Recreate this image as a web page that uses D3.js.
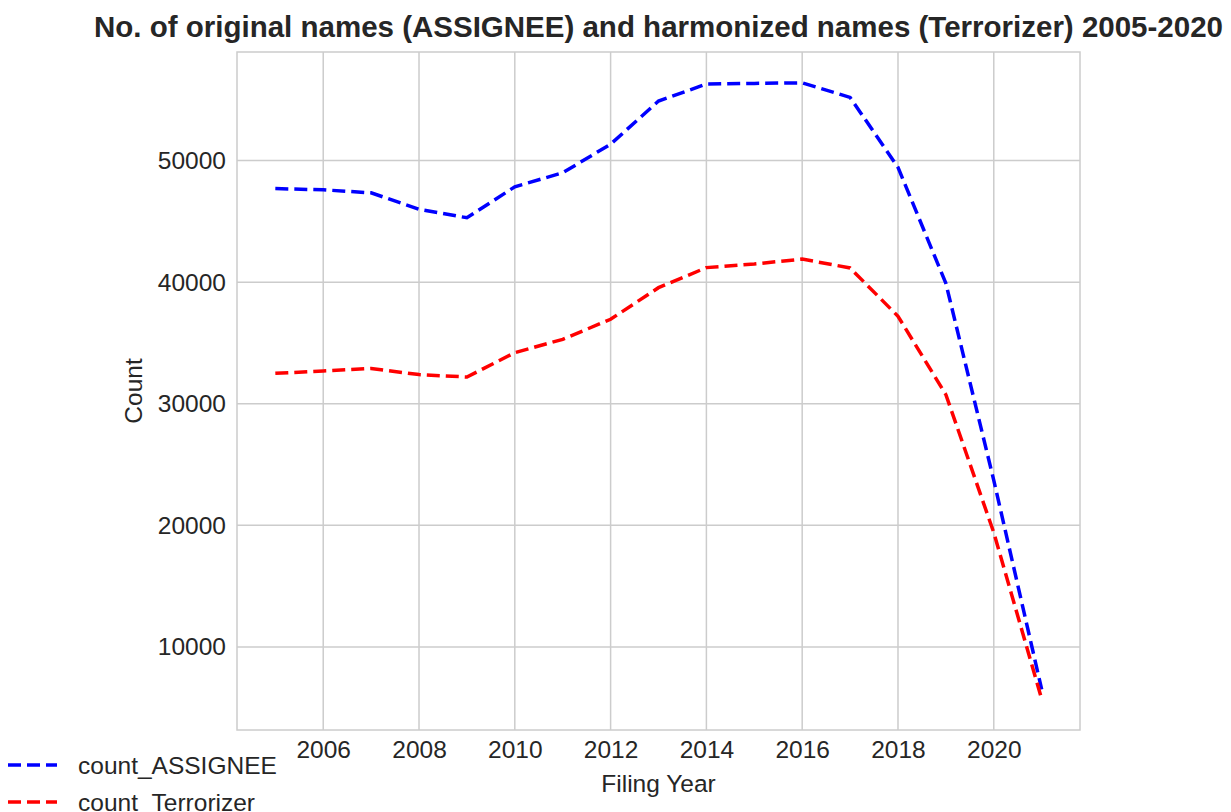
<!DOCTYPE html>
<html>
<head>
<meta charset="utf-8">
<script src="https://cdn.jsdelivr.net/npm/d3@7/dist/d3.min.js"></script>
<style>
  body { margin: 0; background: #fff; }
  svg { display: block; font-family: "Liberation Sans", Arial, sans-serif; }
</style>
</head>
<body>
<svg width="1231" height="812"></svg>
<script>
// data
var years = [2005, 2006, 2007, 2008, 2009, 2010, 2011, 2012, 2013, 2014, 2015, 2016, 2017, 2018, 2019, 2020, 2021];
var countAssignee = [47700, 47600, 47350, 46000, 45300, 47850, 49000, 51350, 54900, 56300, 56350, 56400, 55200, 49450, 39900, 23700, 6500];
var countTerrorizer = [32500, 32700, 32900, 32400, 32200, 34200, 35300, 36950, 39550, 41200, 41500, 41900, 41170, 37200, 30750, 19400, 5700];
var xTicks = [2006, 2008, 2010, 2012, 2014, 2016, 2018, 2020];
var yTicks = [10000, 20000, 30000, 40000, 50000];
var seriesNames = ["count_ASSIGNEE", "count_Terrorizer"];
var seriesColors = ["#0000ff", "#ff0000"];

var svg = d3.select("svg");
var plotLeft = 237, plotRight = 1080, plotTop = 52, plotBottom = 730;
var textColor = "#262626", gridColor = "#cccccc";
var fontSize = "24.5px";

// matplotlib-style 5% margins
var xExt = d3.extent(years), xPad = (xExt[1] - xExt[0]) * 0.05;
var allVals = countAssignee.concat(countTerrorizer);
var yExt = d3.extent(allVals), yPad = (yExt[1] - yExt[0]) * 0.05;

var x = d3.scaleLinear().domain([xExt[0] - xPad, xExt[1] + xPad]).range([plotLeft, plotRight]);
var y = d3.scaleLinear().domain([yExt[0] - yPad, yExt[1] + yPad]).range([plotBottom, plotTop]);

// grid lines
var grid = svg.append("g");
grid.selectAll(".vgrid").data(xTicks).enter().append("line")
    .attr("x1", function(d) { return x(d); })
    .attr("x2", function(d) { return x(d); })
    .attr("y1", plotTop).attr("y2", plotBottom)
    .attr("stroke", gridColor).attr("stroke-width", 1.5);
grid.selectAll(".hgrid").data(yTicks).enter().append("line")
    .attr("y1", function(d) { return y(d); })
    .attr("y2", function(d) { return y(d); })
    .attr("x1", plotLeft).attr("x2", plotRight)
    .attr("stroke", gridColor).attr("stroke-width", 1.5);

// frame
svg.append("rect")
    .attr("x", plotLeft).attr("y", plotTop)
    .attr("width", plotRight - plotLeft).attr("height", plotBottom - plotTop)
    .attr("fill", "none").attr("stroke", gridColor).attr("stroke-width", 1.5);

// axes
var xAxis = svg.append("g")
    .attr("transform", "translate(0," + plotBottom + ")")
    .call(d3.axisBottom(x).tickValues(xTicks).tickFormat(d3.format("d")).tickSize(0).tickPadding(11));
var yAxis = svg.append("g")
    .attr("transform", "translate(" + plotLeft + ",0)")
    .call(d3.axisLeft(y).tickValues(yTicks).tickFormat(d3.format("d")).tickSize(0).tickPadding(11));
[xAxis, yAxis].forEach(function(a) {
  a.select(".domain").remove();
  a.selectAll("text")
    .attr("fill", textColor)
    .style("font-size", fontSize)
    .style("font-family", "'Liberation Sans', Arial, sans-serif");
});

// lines
var line = d3.line()
    .x(function(d, i) { return x(years[i]); })
    .y(function(d) { return y(d); });

[countAssignee, countTerrorizer].forEach(function(vals, i) {
  svg.append("path")
    .datum(vals)
    .attr("d", line)
    .attr("fill", "none")
    .attr("stroke", seriesColors[i])
    .attr("stroke-width", 3.5)
    .attr("stroke-dasharray", "13,6");
});

// title and axis labels
svg.append("text")
    .attr("x", (plotLeft + plotRight) / 2)
    .attr("y", 37)
    .attr("text-anchor", "middle")
    .attr("fill", textColor)
    .style("font-size", "29.5px")
    .style("font-weight", "bold")
    .text("No. of original names (ASSIGNEE) and harmonized names (Terrorizer) 2005-2020");

svg.append("text")
    .attr("x", (plotLeft + plotRight) / 2)
    .attr("y", 792)
    .attr("text-anchor", "middle")
    .attr("fill", textColor)
    .style("font-size", fontSize)
    .text("Filing Year");

svg.append("text")
    .attr("transform", "translate(142," + ((plotTop + plotBottom) / 2) + ") rotate(-90)")
    .attr("text-anchor", "middle")
    .attr("fill", textColor)
    .style("font-size", fontSize)
    .text("Count");

// legend (outside, lower left)
var legend = svg.append("g");
seriesNames.forEach(function(name, i) {
  var ly = 765 + i * 37;
  legend.append("line")
    .attr("x1", 8).attr("x2", 57)
    .attr("y1", ly).attr("y2", ly)
    .attr("stroke", seriesColors[i])
    .attr("stroke-width", 3.5)
    .attr("stroke-dasharray", "13,6");
  legend.append("text")
    .attr("x", 78).attr("y", ly)
    .attr("dy", "0.35em")
    .attr("fill", textColor)
    .style("font-size", fontSize)
    .text(name);
});
</script>
</body>
</html>
